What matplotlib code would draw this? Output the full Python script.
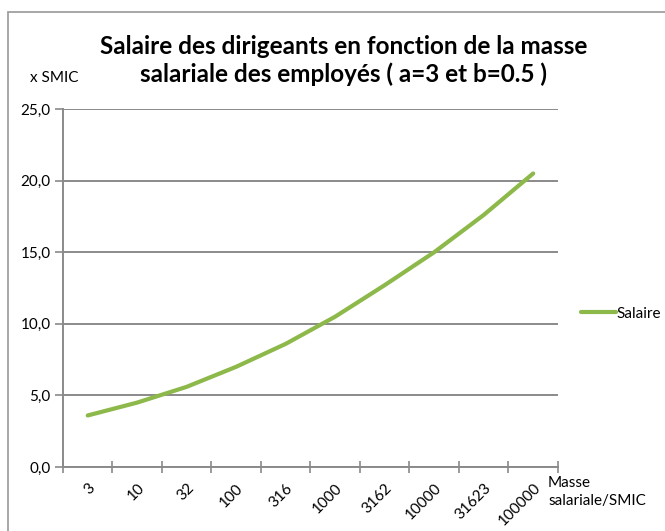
"""Salaire des dirigeants vs masse salariale (Excel-style line chart)."""

import matplotlib
matplotlib.use("Agg")
import matplotlib.pyplot as plt
from matplotlib.patches import Rectangle
import numpy as np

plt.rcParams["font.family"] = ["Lato", "DejaVu Sans"]

# data
masse_labels = ["3", "10", "32", "100", "316", "1000", "3162", "10000", "31623", "100000"]
salaire = [3.6, 4.5, 5.6, 7.0, 8.6, 10.5, 12.7, 15.0, 17.6, 20.5]
y_ticks = [0, 5, 10, 15, 20, 25]

TITLE = "Salaire des dirigeants en fonction de la masse\nsalariale des employés ( a=3 et b=0.5 )"
GREEN = "#8DB84A"
GRID = "#8a8a8a"

fig = plt.figure(figsize=(6.65, 5.31), dpi=100)
ax = fig.add_axes([0.0947, 0.1205, 0.7443, 0.6742])

x = np.arange(len(masse_labels))
ax.plot(x, salaire, color=GREEN, lw=3.0, solid_capstyle="round", label="Salaire")

ax.set_xlim(-0.5, len(masse_labels) - 0.5)
ax.set_ylim(0, 25)
ax.set_yticks(y_ticks)
ax.set_yticklabels([f"{v:.1f}".replace(".", ",") for v in y_ticks], fontsize=11)
ax.yaxis.grid(True, color=GRID, lw=1.4)
ax.set_axisbelow(True)

# category labels at centres, tick marks at boundaries
ax.set_xticks(x)
ax.set_xticklabels(masse_labels, rotation=45, ha="right", va="top",
                   rotation_mode="anchor", fontsize=11)
ax.tick_params(axis="x", length=0, pad=10)
ax.set_xticks(np.arange(-0.5, len(masse_labels)), minor=True)
ax.tick_params(axis="x", which="minor", length=9, direction="inout", color=GRID, width=1.2)
ax.tick_params(axis="y", length=6, color=GRID, width=1.2, pad=3)

for side in ("top", "right"):
    ax.spines[side].set_visible(False)
for side in ("left", "bottom"):
    ax.spines[side].set_color(GRID)
    ax.spines[side].set_linewidth(1.4)

fig.text(0.517, 0.886, TITLE, ha="center", va="center", fontsize=17.5,
         fontweight="bold", linespacing=1.2)
fig.text(0.045, 0.853, "x SMIC", ha="left", va="center", fontsize=11)
fig.text(0.824, 0.0734, "Masse\nsalariale/SMIC", ha="left", va="center", fontsize=11,
         linespacing=1.35)

leg = fig.legend(loc="center left", bbox_to_anchor=(0.862, 0.409), frameon=False,
                 fontsize=11, handlelength=2.3, handletextpad=0.0, borderpad=0)

# outer chart border
fig.patches.append(Rectangle((8 / 665, -0.05), 1.0, 1 - 12 / 531 + 0.05,
                             transform=fig.transFigure, fill=False,
                             edgecolor="#a0a0a0", lw=1.3))

fig.savefig("out.png", dpi=100)
